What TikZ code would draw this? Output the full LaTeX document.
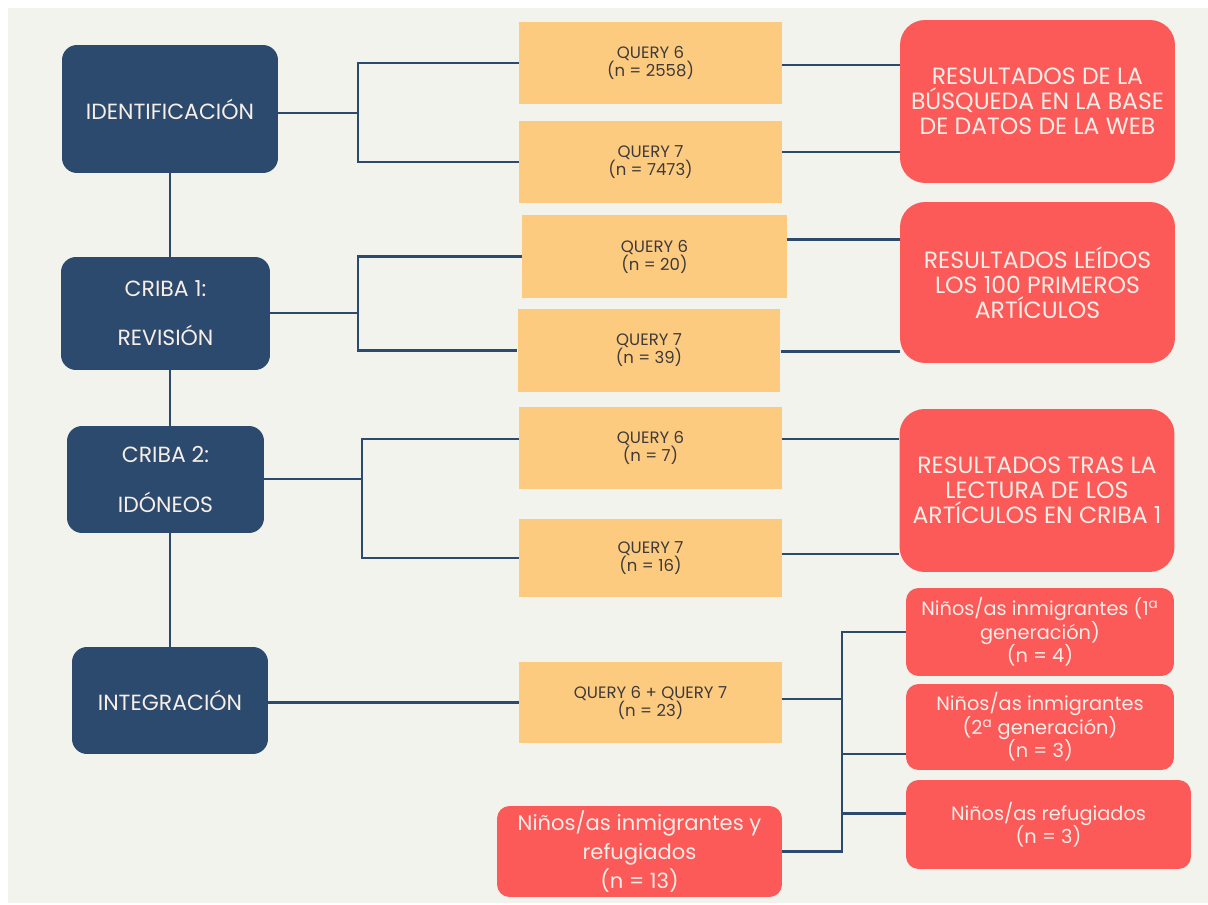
\documentclass[tikz,border=0pt]{standalone}
\usepackage{fontspec}
\setmainfont{Poppins}
\usetikzlibrary{calc, positioning}
\definecolor{paper}{HTML}{F3F3EE}
\definecolor{navy}{HTML}{2C4A6E}
\definecolor{sand}{HTML}{FDCB80}
\definecolor{coral}{HTML}{FC5959}
\definecolor{cream}{HTML}{F8EEE8}
\definecolor{ink}{HTML}{3E3A3A}
\tikzset{
  font=\small,
  % Stage of the review
  stage/.style={fill=navy, rounded corners=0.3cm, text=cream, align=center,
    inner sep=0pt, font=\fontsize{12.5}{15}\selectfont},
  % Query count
  query/.style={fill=sand, text=ink, align=center, inner sep=0pt,
    minimum width=5.26cm, minimum height=1.64cm,
    font=\fontsize{9.4}{10.2}\selectfont},
  % Result description
  result/.style={fill=coral, rounded corners=0.5cm, text=cream,
    align=center, inner sep=0pt, minimum width=5.5cm,
    minimum height=3.26cm, font=\fontsize{13.4}{14.3}\selectfont},
  % Group of children
  group/.style={fill=coral, rounded corners=0.25cm, text=cream,
    align=center, inner sep=0pt, minimum width=5.36cm,
    minimum height=1.76cm, font=\fontsize{11}{13.3}\selectfont},
  % Connector
  link/.style={draw=navy, line width=1.2pt},
}
\begin{document}
\begin{tikzpicture}[x=0.02cm, y=-0.02cm]

  % background
  \fill[white] (0,0) rectangle (1208,905);
  \fill[paper] (8,8) rectangle (1208,903);

  % stages
  \node[stage, minimum width=4.32cm, minimum height=2.56cm] (ident)
    at (170,109) {IDENTIFICACIÓN};
  \node[stage, minimum width=4.18cm, minimum height=2.26cm] (crib1)
    at (165.5,313.5) {CRIBA 1:\\[13pt]REVISIÓN};
  \node[stage, minimum width=3.94cm, minimum height=2.14cm] (crib2)
    at (165.5,479.5) {CRIBA 2:\\[13pt]IDÓNEOS};
  \node[stage, minimum width=3.92cm, minimum height=2.14cm] (integ)
    at (170,700.5) {INTEGRACIÓN};

  % queries
  \node[query] (q6a) at (650.5,63) {QUERY 6\\(n = 2558)};
  \node[query] (q7a) at (650.5,162) {QUERY 7\\(n = 7473)};
  \node[query, minimum width=5.3cm, minimum height=1.66cm] (q6b)
    at (654.5,256.5) {QUERY 6\\(n = 20)};
  \node[query, minimum height=1.66cm] (q7b) at (649,350.5)
    {QUERY 7\\(n = 39)};
  \node[query] (q6c) at (650.5,448) {QUERY 6\\(n = 7)};
  \node[query, minimum height=1.56cm] (q7c) at (650.5,558)
    {QUERY 7\\(n = 16)};
  \node[query, minimum height=1.62cm] (q67) at (650.5,702.5)
    {QUERY 6 + QUERY 7\\(n = 23)};

  % results
  \node[result] (res1) at (1037.5,101.5)
    {RESULTADOS DE LA\\BÚSQUEDA EN LA BASE\\DE DATOS DE LA WEB};
  \node[result, minimum height=3.22cm] (res2) at (1037.5,282.5)
    {RESULTADOS LEÍDOS\\LOS 100 PRIMEROS\\ARTÍCULOS};
  \node[result] (res3) at (1037,490.5)
    {RESULTADOS TRAS LA\\LECTURA DE LOS\\ARTÍCULOS EN CRIBA 1};

  % groups
  \node[group] (grpa) at (1040,632)
    {Niños/as inmigrantes (1\textsuperscript{a}\\generación)\\(n = 4)};
  \node[group, minimum height=1.72cm] (grpb) at (1040,727)
    {Niños/as inmigrantes\\(2\textsuperscript{a} generación)\\(n = 3)};
  \node[group, minimum width=5.7cm, minimum height=1.78cm] (grpc)
    at (1048.5,824.5) {Niños/as refugiados\\(n = 3)};
  \node[group, minimum width=5.7cm, minimum height=1.82cm,
    font=\fontsize{12}{16.4}\selectfont] (total) at (639.5,851.5)
    {Niños/as inmigrantes y\\refugiados\\(n = 13)};

  % spine between stages
  \draw[link] (ident.south) -- (ident.south |- crib1.north);
  \draw[link] (ident.south |- crib1.south) -- (ident.south |- crib2.north);
  \draw[link] (ident.south |- crib2.south) -- (integ.north);

  % brackets to the queries
  \coordinate (k1) at (358,113);
  \coordinate (k2) at (358,313);
  \coordinate (k3) at (362,479);
  \draw[link] (ident.east |- k1) -- (k1);
  \draw[link] (q6a.west) -- (k1 |- q6a.west) -- (k1 |- q7a.west) -- (q7a.west);
  \draw[link] (crib1.east |- k2) -- (k2);
  \draw[link] (q6b.west) -- (k2 |- q6b.west) -- (k2 |- q7b.west) -- (q7b.west);
  \draw[link] (crib2.east |- k3) -- (k3);
  \coordinate (b3) at ($(q6c.west)+(0,-9)$);
  \draw[link] (b3) -- (k3 |- b3) -- (k3 |- q7c.west) -- (q7c.west);
  \draw[link] (integ.east |- q67.west) -- (q67.west);

  % queries to the results
  \coordinate (r1a) at ($(q6a.east)+(0,2)$);
  \coordinate (r1b) at ($(q7a.east)+(0,-10)$);
  \coordinate (r2a) at ($(q6b.east)+(0,-17)$);
  \coordinate (r2b) at ($(q7b.east)+(0,1)$);
  \coordinate (r3a) at ($(q6c.east)+(0,-9)$);
  \coordinate (r3b) at ($(q7c.east)+(0,-4)$);
  \draw[link] (r1a) -- (r1a -| res1.west);
  \draw[link] (r1b) -- (r1b -| res1.west);
  \draw[link] (r2a) -- (r2a -| res2.west);
  \draw[link] (r2b) -- (r2b -| res2.west);
  \draw[link] (r3a) -- (r3a -| res3.west);
  \draw[link] (r3b) -- (r3b -| res3.west);

  % bracket to the groups
  \coordinate (k4) at (842,699);
  \draw[link] (q67.east |- k4) -- (k4);
  \draw[link] (grpa.west) -- (k4 |- grpa.west) -- (k4 |- total.east)
    -- (total.east);
  \coordinate (gb) at ($(grpb.west)+(0,27)$);
  \coordinate (gc) at ($(grpc.west)+(0,-11)$);
  \draw[link] (k4 |- gb) -- (gb);
  \draw[link] (k4 |- gc) -- (gc);
\end{tikzpicture}
\end{document}
